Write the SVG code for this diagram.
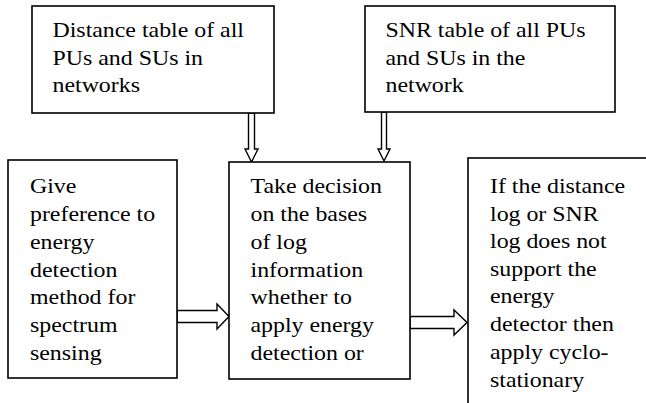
<svg xmlns="http://www.w3.org/2000/svg" width="646" height="403" viewBox="0 0 646 403">
  <style>
    .box { fill: #ffffff; stroke: #000000; stroke-width: 1.6; }
    .arrow { fill: #ffffff; stroke: #000000; stroke-width: 1.4; stroke-linejoin: miter; }
    .label { font-family: 'Liberation Serif', Tinos, 'Times New Roman', 'DejaVu Serif', serif; font-size: 22px; fill: #000000; }
  </style>
  <rect width="646" height="403" fill="#ffffff"/>

  <g id="connectors">
    <!-- distance table down into decision box -->
    <polygon class="arrow" points="248.5,113 254.5,113 254.5,149 258,149 251.5,162 245,149 248.5,149"/>
    <!-- SNR table down into decision box -->
    <polygon class="arrow" points="381.5,112 386.5,112 386.5,149 390,149 384,161 378,149 381.5,149"/>
    <!-- preference box into decision box -->
    <polygon class="arrow" points="177,310.5 217,310.5 217,304 229,316.5 217,329 217,322.5 177,322.5"/>
    <!-- decision box into fallback box -->
    <polygon class="arrow" points="410,316.5 454,316.5 454,310 467,322.5 454,335 454,328.5 410,328.5"/>
  </g>

  <g id="distance-table">
    <rect class="box" x="32" y="6" width="242" height="107"/>
    <g class="label" font-family="Liberation Serif, serif" transform="translate(52.5 0) scale(1.085 1)">
      <text x="0" y="37">Distance table of all</text>
      <text x="0" y="65">PUs and SUs in</text>
      <text x="0" y="92">networks</text>
    </g>
  </g>

  <g id="snr-table">
    <rect class="box" x="365" y="6" width="250" height="106"/>
    <g class="label" font-family="Liberation Serif, serif" transform="translate(385.5 0) scale(1.085 1)">
      <text x="0" y="37">SNR table of all PUs</text>
      <text x="0" y="65">and SUs in the</text>
      <text x="0" y="92">network</text>
    </g>
  </g>

  <g id="energy-preference">
    <rect class="box" x="8" y="160" width="169" height="218"/>
    <g class="label" font-family="Liberation Serif, serif" transform="translate(30 0) scale(1.085 1)">
      <text x="0" y="193">Give</text>
      <text x="0" y="221">preference to</text>
      <text x="0" y="249">energy</text>
      <text x="0" y="277">detection</text>
      <text x="0" y="304">method for</text>
      <text x="0" y="332">spectrum</text>
      <text x="0" y="360">sensing</text>
    </g>
  </g>

  <g id="decision">
    <rect class="box" x="229" y="162" width="181" height="217"/>
    <g class="label" font-family="Liberation Serif, serif" transform="translate(250.5 0) scale(1.085 1)">
      <text x="0" y="193">Take decision</text>
      <text x="0" y="221">on the bases</text>
      <text x="0" y="249">of log</text>
      <text x="0" y="277">information</text>
      <text x="0" y="304">whether to</text>
      <text x="0" y="332">apply energy</text>
      <text x="0" y="360">detection or</text>
    </g>
  </g>

  <g id="cyclostationary-fallback">
    <rect class="box" x="468" y="158" width="200" height="260"/>
    <g class="label" font-family="Liberation Serif, serif" transform="translate(490 0) scale(1.085 1)">
      <text x="0" y="193">If the distance</text>
      <text x="0" y="221">log or SNR</text>
      <text x="0" y="248">log does not</text>
      <text x="0" y="276">support the</text>
      <text x="0" y="303">energy</text>
      <text x="0" y="331">detector then</text>
      <text x="0" y="359">apply cyclo-</text>
      <text x="0" y="387">stationary</text>
    </g>
  </g>
</svg>
